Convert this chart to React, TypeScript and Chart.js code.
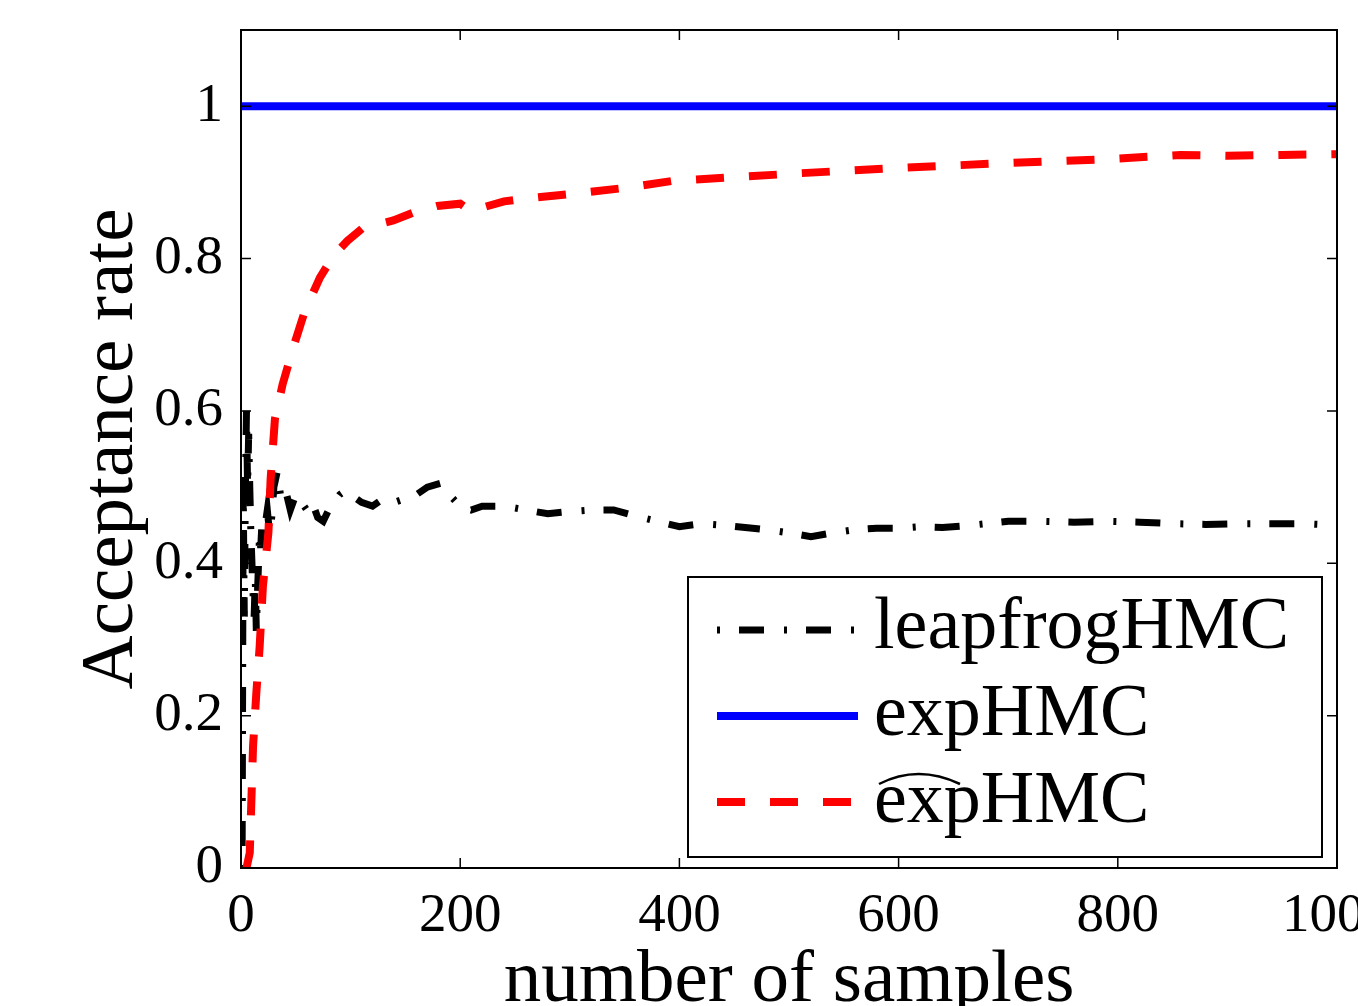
import React, { useEffect, useRef } from "react";
import { Chart, registerables } from "chart.js";

Chart.register(...registerables);

// ---- data ----
const X_TICK_VALUES = [0, 200, 400, 600, 800, 1000];
const Y_TICK_VALUES = [0, 0.2, 0.4, 0.6, 0.8, 1];
const X_MAX = 1000;
const Y_MAX = 1.1;

const seriesLabels = ["leapfrogHMC", "expHMC", "expHMC"];

const leapfrogX = [
  1, 2, 3, 4, 5, 6, 7, 8, 9, 10, 11, 12, 13, 14, 15, 16, 17, 18, 19, 20, 22, 24, 26, 28, 30, 33, 36, 40,
  45, 50, 55, 60, 65, 70, 75, 80, 85, 90, 95, 100, 110, 120, 130, 140, 150, 160, 170, 182, 190, 200, 210,
  220, 240, 260, 280, 300, 320, 340, 360, 380, 400, 420, 440, 460, 480, 500, 520, 540, 560, 580, 600, 620,
  640, 660, 680, 700, 730, 760, 790, 820, 850, 880, 910, 940, 970, 1000,
];
const leapfrogY = [
  0, 0.5, 0.33, 0.5, 0.6, 0.5, 0.57, 0.5, 0.44, 0.4, 0.36, 0.33, 0.38, 0.31, 0.36, 0.4, 0.44, 0.42, 0.45,
  0.43, 0.45, 0.47, 0.44, 0.46, 0.5, 0.52, 0.49, 0.5, 0.47, 0.49, 0.48, 0.47, 0.48, 0.46, 0.455, 0.47, 0.48,
  0.49, 0.495, 0.49, 0.48, 0.475, 0.485, 0.48, 0.485, 0.49, 0.5, 0.505, 0.49, 0.475, 0.47, 0.475, 0.475,
  0.47, 0.465, 0.468, 0.47, 0.47, 0.462, 0.455, 0.448, 0.452, 0.45, 0.447, 0.444, 0.44, 0.435, 0.44, 0.444,
  0.446, 0.446, 0.448, 0.447, 0.449, 0.452, 0.455, 0.455, 0.454, 0.455, 0.454, 0.452, 0.451, 0.452, 0.452,
  0.452, 0.45,
];

const expX = [0, 1000];
const expY = [1, 1];

const expHatX = [
  5, 8, 11, 14, 17, 20, 25, 27, 31, 38, 47, 58, 72, 85, 97, 111, 125, 139, 160, 179, 200, 210, 218, 240,
  261, 303, 352, 394, 419, 510, 601, 693, 784, 857, 900, 950, 1000,
];
const expHatY = [
  0, 0.02, 0.16, 0.23, 0.29, 0.37, 0.44, 0.51, 0.59, 0.635, 0.68, 0.73, 0.775, 0.805, 0.823, 0.84, 0.845,
  0.85, 0.862, 0.869, 0.872, 0.862, 0.866, 0.875, 0.879, 0.885, 0.893, 0.902, 0.904, 0.912, 0.919, 0.925,
  0.93, 0.936, 0.935, 0.936, 0.937,
];

const FONT = "'Liberation Serif', 'Times New Roman', serif";

const toPoints = (xs: number[], ys: number[]) => xs.map((x, i) => ({ x, y: ys[i] }));

const framePlugin = {
  id: "matlabFrame",
  afterDatasetsDraw(chart: any) {
    const { ctx, chartArea, scales } = chart;
    const { left, right, top, bottom } = chartArea;
    ctx.save();
    ctx.strokeStyle = "#000";
    ctx.lineWidth = 2;
    ctx.setLineDash([]);
    ctx.strokeRect(left, top, right - left, bottom - top);
    const tl = 10;
    ctx.lineWidth = 1.5;
    ctx.beginPath();
    for (const t of scales.x.ticks) {
      const px = scales.x.getPixelForValue(t.value);
      ctx.moveTo(px, bottom);
      ctx.lineTo(px, bottom - tl);
      ctx.moveTo(px, top);
      ctx.lineTo(px, top + tl);
    }
    for (const t of scales.y.ticks) {
      const py = scales.y.getPixelForValue(t.value);
      ctx.moveTo(left, py);
      ctx.lineTo(left + tl, py);
      ctx.moveTo(right, py);
      ctx.lineTo(right - tl, py);
    }
    ctx.stroke();

    // legend
    const bx = 688, by = 577, bw = 634, bh = 280;
    ctx.fillStyle = "#fff";
    ctx.fillRect(bx, by, bw, bh);
    ctx.lineWidth = 2;
    ctx.strokeRect(bx, by, bw, bh);
    const rows = [630, 716, 802];
    const textBase = [648, 735, 822];
    const order = [0, 1, 2];
    order.forEach((di, i) => {
      const ds = chart.data.datasets[di];
      ctx.save();
      ctx.strokeStyle = ds.borderColor;
      ctx.lineWidth = ds.borderWidth;
      ctx.setLineDash(ds.borderDash || []);
      ctx.lineCap = "butt";
      ctx.beginPath();
      ctx.moveTo(717, rows[i]);
      ctx.lineTo(858, rows[i]);
      ctx.stroke();
      ctx.restore();
      ctx.fillStyle = "#000";
      ctx.font = `74px ${FONT}`;
      ctx.textAlign = "left";
      ctx.textBaseline = "alphabetic";
      ctx.fillText(ds.label, 874, textBase[i]);
    });
    // wide hat over "exp" in the third entry
    ctx.lineWidth = 2.5;
    ctx.setLineDash([]);
    ctx.beginPath();
    ctx.moveTo(879, 784);
    ctx.quadraticCurveTo(918, 764, 960, 784);
    ctx.stroke();
    ctx.restore();
  },
};

export default function App() {
  const canvasRef = useRef<HTMLCanvasElement | null>(null);

  useEffect(() => {
    const canvas = canvasRef.current;
    if (!canvas) return;
    const chart = new Chart(canvas, {
      type: "line",
      data: {
        datasets: [
          {
            label: seriesLabels[0],
            data: toPoints(leapfrogX, leapfrogY),
            borderColor: "#000000",
            borderWidth: 7,
            borderDash: [3, 19, 25, 20],
            pointRadius: 0,
            tension: 0,
            fill: false,
            order: 2,
          },
          {
            label: seriesLabels[1],
            data: toPoints(expX, expY),
            borderColor: "#0000ff",
            borderWidth: 8,
            pointRadius: 0,
            tension: 0,
            fill: false,
            order: 0,
          },
          {
            label: seriesLabels[2],
            data: toPoints(expHatX, expHatY),
            borderColor: "#ff0000",
            borderWidth: 8,
            borderDash: [28, 25],
            pointRadius: 0,
            tension: 0,
            fill: false,
            order: 1,
          },
        ],
      },
      options: {
        responsive: false,
        animation: false,
        devicePixelRatio: 1,
        layout: { padding: { top: 30, right: 21, left: 0, bottom: 0 } },
        plugins: {
          legend: { display: false },
          tooltip: { enabled: false },
        },
        scales: {
          x: {
            type: "linear",
            min: 0,
            max: X_MAX,
            grid: { display: false, drawTicks: false, tickLength: 0 },
            border: { display: false },
            afterBuildTicks: (scale: any) => {
              scale.ticks = X_TICK_VALUES.map((v) => ({ value: v }));
            },
            ticks: {
              color: "#000",
              font: { family: FONT, size: 55 },
              padding: 16,
              maxRotation: 0,
              autoSkip: false,
              callback: (v: any) => String(v),
            },
            title: {
              display: true,
              text: "number of samples",
              color: "#000",
              font: { family: FONT, size: 75, lineHeight: 0.5 },
              padding: { top: 0, bottom: 6 },
            },
            afterFit: (scale: any) => {
              scale.height = 138;
              scale.paddingLeft = 0;
              scale.paddingRight = 0;
            },
          } as any,
          y: {
            type: "linear",
            min: 0,
            max: Y_MAX,
            grid: { display: false, drawTicks: false, tickLength: 0 },
            border: { display: false },
            afterBuildTicks: (scale: any) => {
              scale.ticks = Y_TICK_VALUES.map((v) => ({ value: v }));
            },
            ticks: {
              color: "#000",
              font: { family: FONT, size: 55 },
              padding: 18,
              autoSkip: false,
              callback: (v: any) => String(Number(Number(v).toFixed(1))),
            },
            title: {
              display: true,
              text: "Acceptance rate",
              color: "#000",
              font: { family: FONT, size: 75, lineHeight: 1.2 },
              padding: { top: 67, bottom: 0 },
            },
            afterFit: (scale: any) => {
              scale.width = 241;
              scale.paddingTop = 0;
              scale.paddingBottom = 0;
            },
          } as any,
        },
      },
      plugins: [framePlugin],
    });
    return () => chart.destroy();
  }, []);

  return (
    <div style={{ position: "absolute", left: 0, top: 0, width: 1358, height: 1006, background: "#fff" }}>
      <canvas ref={canvasRef} width={1358} height={1006} style={{ display: "block" }} />
    </div>
  );
}
